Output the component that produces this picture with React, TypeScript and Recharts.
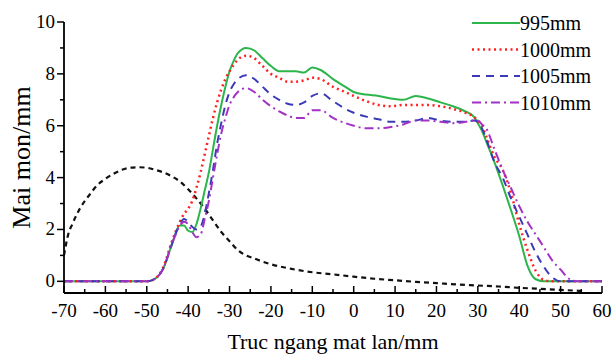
import { LineChart, Line, XAxis, YAxis, Legend } from 'recharts'

// shared x positions (mm) for the four measured profiles
const xs = [
  -70, -50, -48, -46, -44, -42, -41, -40, -39, -38, -37, -36, -35, -34, -33, -32, -31, -30, -29, -28,
  -26, -24, -22, -20, -18, -16, -14, -12, -10, -8, -5, -2, 0, 3, 6, 9, 12, 15, 18, 21, 24, 27, 29,
  30, 31, 32, 34, 36, 38, 40, 42, 44, 46, 48, 50, 52, 54, 60,
]

const y995 = [
  0, 0, 0.1, 0.5, 1.4, 2.15, 2.15, 1.95, 1.9, 2.2, 2.8, 3.5, 4.2, 5.1, 6.0, 6.8, 7.5, 8.1, 8.5, 8.8,
  9.0, 8.9, 8.6, 8.3, 8.1, 8.1, 8.1, 8.05, 8.25, 8.15, 7.8, 7.5, 7.3, 7.2, 7.15, 7.05, 7.0, 7.15, 7.05,
  6.9, 6.75, 6.55, 6.35, 6.1, 5.8, 5.4, 4.6, 3.7, 2.75, 1.75, 0.6, 0.08, 0, 0, 0, 0, 0, 0,
]

const y1000 = [
  0, 0, 0.1, 0.55, 1.5, 2.3, 2.6, 2.8, 3.1, 3.6, 4.2, 4.9, 5.6, 6.3, 6.9, 7.4, 7.8, 8.1, 8.35, 8.55,
  8.7, 8.6, 8.3, 8.0, 7.85, 7.7, 7.7, 7.75, 7.85, 7.8, 7.5, 7.3, 7.15, 6.95, 6.8, 6.75, 6.8, 6.8, 6.8,
  6.75, 6.65, 6.5, 6.35, 6.2, 6.0, 5.6, 4.8, 4.3, 3.4, 2.2, 1.2, 0.4, 0.05, 0, 0, 0, 0, 0,
]

const y1005 = [
  0, 0, 0.1, 0.5, 1.4, 2.2, 2.4, 2.3, 2.1, 2.0, 2.1, 2.6, 3.4, 4.3, 5.3, 6.1, 6.8, 7.3, 7.6, 7.8,
  7.95, 7.8, 7.5, 7.2, 7.0, 6.85, 6.8, 6.9, 7.15, 7.25, 6.95, 6.65, 6.5, 6.35, 6.25, 6.15, 6.15, 6.2,
  6.3, 6.2, 6.15, 6.15, 6.2, 6.15, 5.9, 5.5, 4.6, 4.0, 3.2, 2.5, 1.8, 1.1, 0.55, 0.15, 0, 0, 0, 0,
]

const y1010 = [
  0, 0, 0.1, 0.5, 1.4, 2.15, 2.3, 2.2, 1.9, 1.7, 1.8, 2.4, 3.1, 4.0, 4.9, 5.7, 6.3, 6.8, 7.1, 7.3,
  7.45, 7.3, 7.0, 6.75, 6.55, 6.4, 6.3, 6.3, 6.6, 6.6, 6.3, 6.1, 6.0, 5.9, 5.9, 5.95, 6.05, 6.2, 6.2,
  6.15, 6.1, 6.15, 6.2, 6.2, 6.05, 5.9, 5.1, 4.3, 3.6, 2.9, 2.3, 1.8, 1.3, 0.8, 0.45, 0.1, 0, 0,
]

// unlabelled black dashed curve
const xRef = [
  -70, -69, -68, -66, -64, -62, -60, -58, -56, -54, -52, -50, -48, -46, -44, -42, -40, -38, -36, -34,
  -32, -30, -28, -26, -24, -22, -20, -15, -10, -5, 0, 5, 10, 15, 20, 25, 30, 35, 40, 45, 50, 55,
]
const yRef = [
  1.0, 1.8, 2.2, 2.85, 3.3, 3.7, 3.95, 4.15, 4.3, 4.38, 4.4, 4.38, 4.3, 4.2, 4.05, 3.85, 3.55, 3.2,
  2.8, 2.35, 1.9, 1.55, 1.2, 1.0, 0.88, 0.76, 0.66, 0.48, 0.35, 0.27, 0.18, 0.1, 0.04, -0.02, -0.07,
  -0.12, -0.16, -0.2, -0.25, -0.29, -0.33, -0.37,
]

const seriesNames = ['995mm', '1000mm', '1005mm', '1010mm']
const seriesValues = [y995, y1000, y1005, y1010]
const seriesColors = ['#2bb54b', '#ff2020', '#3a3ab8', '#a231c4']
const seriesDashes = ['', '2 3.5', '8 6', '9 4 2 4']
const seriesWidths = [2, 2.5, 2, 2]

const xTicks = [-70, -65, -60, -55, -50, -45, -40, -35, -30, -25, -20, -15, -10, -5, 0, 5, 10, 15, 20, 25, 30, 35, 40, 45, 50, 55, 60]
const yTicks = [0, 1, 2, 3, 4, 5, 6, 7, 8, 9, 10]

const FONT = '"Liberation Serif", "Times New Roman", serif'

function XTick(props: any) {
  const { x, y, payload } = props
  const major = payload.value % 10 === 0
  return (
    <g>
      <line x1={x} x2={x} y1={y} y2={y - (major ? 7 : 4)} stroke="#000" strokeWidth={1.5} />
      {major && (
        <text x={x} y={y + 24} textAnchor="middle" fontSize={19} fontFamily={FONT} fill="#000">
          {payload.value}
        </text>
      )}
    </g>
  )
}

function YTick(props: any) {
  const { x, y, payload } = props
  const major = payload.value % 2 === 0
  return (
    <g>
      <line x1={x} x2={x - (major ? 7 : 4)} y1={y} y2={y} stroke="#000" strokeWidth={1.5} />
      {major && (
        <text x={x - 9} y={y + 6} textAnchor="end" fontSize={19} fontFamily={FONT} fill="#000">
          {payload.value}
        </text>
      )}
    </g>
  )
}

function LegendBox() {
  return (
    <svg width={143} height={112}>
      {seriesNames.map((name, i) => (
        <g key={name} transform={`translate(0, ${15 + i * 26.5})`}>
          <line
            x1={2}
            x2={50}
            y1={0}
            y2={0}
            stroke={seriesColors[i]}
            strokeWidth={seriesWidths[i]}
            strokeDasharray={seriesDashes[i] || undefined}
          />
          <text x={50} y={7} fontSize={20} fontFamily={FONT} fill="#000">
            {name}
          </text>
        </g>
      ))}
    </svg>
  )
}

export default function App() {
  const lines = seriesNames.map((name, i) => ({
    name,
    data: xs.map((x, j) => ({ x, y: seriesValues[i][j] })),
  }))
  const refData = xRef.map((x, j) => ({ x, y: yRef[j] }))

  return (
    <div style={{ position: 'absolute', left: 0, top: 0, background: '#fff' }}>
      <LineChart width={613} height={354} margin={{ top: 22, right: 11, bottom: 0, left: 0 }}>
        <XAxis
          dataKey="x"
          type="number"
          domain={[-70, 60]}
          ticks={xTicks}
          interval={0}
          tickSize={0}
          tickMargin={0}
          tick={<XTick />}
          height={61}
          axisLine={{ stroke: '#000', strokeWidth: 1.8 }}
          allowDataOverflow
          label={{
            value: 'Truc ngang mat lan/mm',
            position: 'insideBottom',
            offset: 5,
            style: { fontSize: 22, fontFamily: FONT, fill: '#000' },
          }}
        />
        <YAxis
          dataKey="y"
          type="number"
          domain={[-0.45, 10]}
          ticks={yTicks}
          interval={0}
          tickSize={0}
          tickMargin={0}
          tick={<YTick />}
          width={64}
          axisLine={{ stroke: '#000', strokeWidth: 1.8 }}
          allowDataOverflow
          label={{
            value: 'Mai mon/mm',
            angle: -90,
            position: 'insideLeft',
            offset: 21,
            style: { fontSize: 26, fontFamily: FONT, fill: '#000', textAnchor: 'middle' },
          }}
        />
        <Legend
          layout="vertical"
          align="center"
          verticalAlign="middle"
          content={() => <LegendBox />}
          wrapperStyle={{ position: 'absolute', left: 470, top: 8, width: 143, height: 112 }}
        />
        <Line
          data={refData}
          dataKey="y"
          name="ref"
          legendType="none"
          type="monotone"
          stroke="#111"
          strokeWidth={2.2}
          strokeDasharray="5 4"
          dot={false}
          isAnimationActive={false}
        />
        {lines.map((s, i) => (
          <Line
            key={s.name}
            data={s.data}
            dataKey="y"
            name={s.name}
            type="monotone"
            stroke={seriesColors[i]}
            strokeWidth={seriesWidths[i]}
            strokeDasharray={seriesDashes[i] || undefined}
            dot={false}
            isAnimationActive={false}
          />
        ))}
      </LineChart>
    </div>
  )
}
